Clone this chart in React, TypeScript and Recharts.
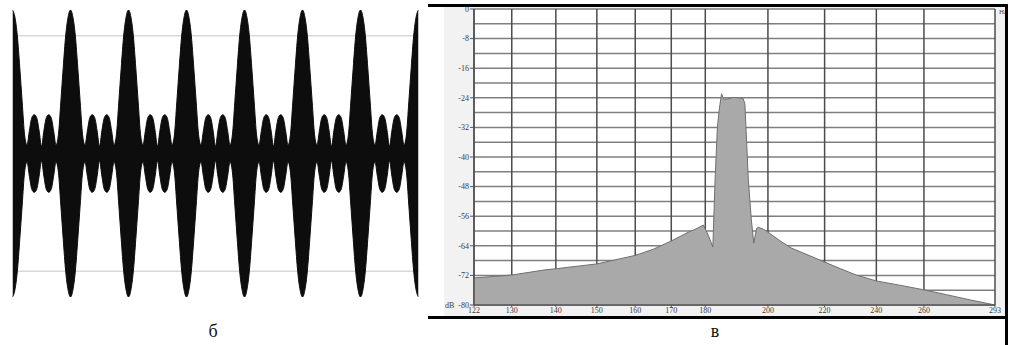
import React from "react";
import { AreaChart, Area, XAxis, YAxis, CartesianGrid } from "recharts";

// ---------- panel "б": envelope of the beating waveform (relative amplitude), 24 samples per beat period ----------
const waveEnvelope: number[] = [
  1.0, 0.95, 0.82, 0.6, 0.36, 0.13, 0.06, 0.16, 0.25, 0.27, 0.25, 0.16, 0.05, 0.16, 0.25, 0.27, 0.25, 0.16, 0.06, 0.13, 0.36, 0.6, 0.82, 0.95,
  1.0, 0.95, 0.82, 0.6, 0.36, 0.13, 0.06, 0.16, 0.25, 0.27, 0.25, 0.16, 0.05, 0.16, 0.25, 0.27, 0.25, 0.16, 0.06, 0.13, 0.36, 0.6, 0.82, 0.95,
  1.0, 0.95, 0.82, 0.6, 0.36, 0.13, 0.06, 0.16, 0.25, 0.27, 0.25, 0.16, 0.05, 0.16, 0.25, 0.27, 0.25, 0.16, 0.06, 0.13, 0.36, 0.6, 0.82, 0.95,
  1.0, 0.95, 0.82, 0.6, 0.36, 0.13, 0.06, 0.16, 0.25, 0.27, 0.25, 0.16, 0.05, 0.16, 0.25, 0.27, 0.25, 0.16, 0.06, 0.13, 0.36, 0.6, 0.82, 0.95,
  1.0, 0.95, 0.82, 0.6, 0.36, 0.13, 0.06, 0.16, 0.25, 0.27, 0.25, 0.16, 0.05, 0.16, 0.25, 0.27, 0.25, 0.16, 0.06, 0.13, 0.36, 0.6, 0.82, 0.95,
  1.0, 0.95, 0.82, 0.6, 0.36, 0.13, 0.06, 0.16, 0.25, 0.27, 0.25, 0.16, 0.05, 0.16, 0.25, 0.27, 0.25, 0.16, 0.06, 0.13, 0.36, 0.6, 0.82, 0.95,
  1.0, 0.95, 0.82, 0.6, 0.36, 0.13, 0.06, 0.16, 0.25, 0.27, 0.25, 0.16, 0.05, 0.16, 0.25, 0.27, 0.25, 0.16, 0.06, 0.13, 0.36, 0.6, 0.82, 0.95,
  1.0,
];
const waveGuides: number[] = [-0.82, 0.82];

// ---------- panel "в": spectrum ----------
const freqs: number[] = [
  122, 126, 130, 137.5, 140, 150, 160, 165, 170, 175, 177.5, 179.4, 180.6, 182.3, 183.0, 183.7, 184.3, 185.0,
  185.6, 187.0, 188.6, 190.0, 191.8, 192.4, 193.5, 194.5, 195.3, 196.2, 196.8, 198.5, 200, 204, 208, 214, 220,
  226, 232, 240, 250, 260, 270, 280, 293,
];
const levels: number[] = [
  -72.7, -72.3, -71.9, -70.5, -70.2, -68.9, -66.6, -64.9, -62.7, -60.3, -59.3, -58.4, -60.5, -64.3, -46, -32, -27, -22.9,
  -24.4, -24.3, -23.9, -24.0, -24.2, -25.6, -46, -57, -63.3, -59.3, -59.0, -59.5, -60.3, -62.6, -64.6, -66.5, -68.4,
  -70.2, -71.9, -73.5, -74.7, -75.9, -77.2, -78.5, -80.0,
];
const freqTicks: number[] = [122, 130, 140, 150, 160, 170, 180, 200, 220, 240, 260, 293];
const levelTicks: number[] = [0, -8, -16, -24, -32, -40, -48, -56, -64, -72, -80];
const levelGrid: number[] = [0, -4, -8, -12, -16, -20, -24, -28, -32, -36, -40, -44, -48, -52, -56, -60, -64, -68, -72, -76, -80];

const waveData = waveEnvelope.map((a, i) => ({ t: i, band: [-a, a] }));
const spectrumData = freqs.map((f, i) => ({ f, db: levels[i] }));

const tickStyle = { fontSize: 8, fill: "#3a3a3a", fontFamily: "Liberation Serif" };

export default function App() {
  return (
    <div
      style={{
        position: "absolute",
        left: 0,
        top: 0,
        width: 1009,
        height: 345,
        background: "#fff",
        fontFamily: "Liberation Serif",
        overflow: "hidden",
      }}
    >
      {/* left waveform */}
      <div style={{ position: "absolute", left: 0, top: 0 }}>
        <AreaChart width={431} height={310} data={waveData} margin={{ top: 10, right: 12.5, bottom: 13, left: 12.5 }}>
          <CartesianGrid vertical={false} horizontalValues={waveGuides} stroke="#c4c4c4" strokeWidth={1} />
          <XAxis dataKey="t" type="number" domain={[0, 168]} hide allowDataOverflow />
          <YAxis type="number" domain={[-1, 1]} ticks={waveGuides} hide allowDataOverflow />
          <Area
            type="monotone"
            dataKey="band"
            stroke="#0d0d0d"
            strokeWidth={1}
            fill="#0d0d0d"
            fillOpacity={1}
            isAnimationActive={false}
            dot={false}
            activeDot={false}
          />
        </AreaChart>
      </div>

      {/* right panel background */}
      <div style={{ position: "absolute", left: 444, top: 6, width: 561, height: 311, background: "#f2f2f2" }} />
      <div style={{ position: "absolute", left: 444, top: 6 }}>
        <AreaChart width={560} height={310} data={spectrumData} margin={{ top: 3, right: 9, bottom: 0, left: 0 }}>
          <CartesianGrid fill="#ffffff" vertical={false} horizontalValues={levelGrid} stroke="#7f7f7f" strokeWidth={1.5} />
          <CartesianGrid horizontal={false} verticalValues={freqTicks} stroke="#4c4c4c" strokeWidth={1.5} />
          <XAxis
            dataKey="f"
            type="number"
            scale="log"
            domain={[122, 293]}
            ticks={freqTicks}
            interval={0}
            allowDataOverflow
            height={11}
            tickSize={2}
            tickMargin={0}
            tick={tickStyle}
            axisLine={{ stroke: "#555", strokeWidth: 1.5 }}
            tickLine={{ stroke: "#555" }}
          />
          <YAxis
            type="number"
            domain={[-80, 0]}
            ticks={levelTicks}
            interval={0}
            allowDataOverflow
            width={30}
            tickSize={4}
            tickMargin={1}
            tick={tickStyle}
            tickFormatter={(v: number) => (v === -80 ? "dB\u00a0\u00a0-80" : String(v))}
            axisLine={{ stroke: "#555", strokeWidth: 1.5 }}
            tickLine={{ stroke: "#555" }}
          />
          <Area
            type="linear"
            dataKey="db"
            baseValue={-80}
            stroke="#6f6f6f"
            strokeWidth={1}
            fill="#a9a9a9"
            fillOpacity={1}
            isAnimationActive={false}
            dot={false}
            activeDot={false}
          />
        </AreaChart>
      </div>
      <div style={{ position: "absolute", left: 999, top: 8, fontSize: 7, color: "#474747" }}>Hz</div>

      {/* frame lines */}
      <div style={{ position: "absolute", left: 428, top: 4, width: 580, height: 3, background: "#000" }} />
      <div style={{ position: "absolute", left: 428, top: 316, width: 580, height: 3, background: "#000" }} />
      <div style={{ position: "absolute", left: 1005, top: 4, width: 3, height: 341, background: "#000" }} />

      {/* captions */}
      <div style={{ position: "absolute", left: 198, top: 321, width: 30, textAlign: "center", fontSize: 18, color: "#111" }}>б</div>
      <div style={{ position: "absolute", left: 700, top: 321, width: 30, textAlign: "center", fontSize: 18, color: "#111" }}>в</div>
    </div>
  );
}
